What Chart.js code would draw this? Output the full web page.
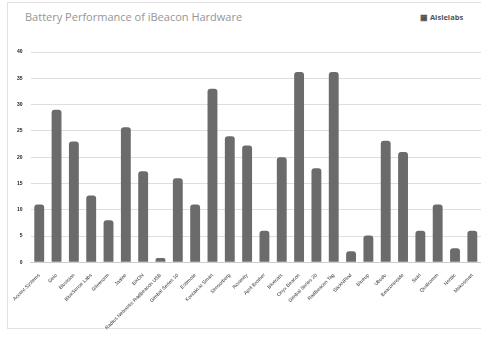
<!DOCTYPE html>
<html lang="en">
<head>
  <meta charset="UTF-8">
  <title>Battery Performance of iBeacon Hardware</title>
  <script src="https://cdn.jsdelivr.net/npm/chart.js"></script>
  <style>
    body { margin: 0; background: #fff; font-family: "Open Sans", Arial, sans-serif; }
    #card { position: absolute; left: 7px; top: 2px; width: 480px; height: 327px; border: 1px solid #e2e2e2; box-sizing: border-box; }
    #title { position: absolute; left: 25px; top: 9px; font-size: 11px; color: #959595; }
    #logo { position: absolute; left: 420px; top: 12px; font-size: 7.5px; font-weight: bold; color: #555; }
    #wrap { position: absolute; left: 8px; top: 0; width: 473px; height: 335px; }
  </style>
</head>
<body>
  <div id="card"></div>
  <div id="title">Battery Performance of iBeacon Hardware</div>
  <div id="logo">&#9638; Aislelabs</div>
  <div id="wrap"><canvas id="batteryChart"></canvas></div>

  <script>
    const vendors = [
      'Accent Systems', 'Gelo', 'Bluvision', 'BlueSense Labs', 'Glimworm', 'Jaalee', 'BKON',
      'Radius Networks RadBeacon USB', 'Gimbal Series 10', 'Estimote', 'Kontakt.io Smart',
      'Sensorberg', 'Roximity', 'April Brother', 'Bluecats', 'Onyx Beacon', 'Gimbal Series 20',
      'RadBeacon Tag', 'StickNFind', 'Blueup', 'Ubudu', 'Beaconinside', 'Swirl', 'Qualcomm', 'Nordic', 'Mokosmart'
    ];
    const batteryMonths = [11, 29, 23, 12.7, 8, 25.7, 17.3, 0.8, 16, 11, 33, 24, 22.2, 6,
                           20, 36.2, 17.9, 36.2, 2.1, 5.1, 23.1, 21, 6, 11, 2.7, 6];
    const yTicks = [0, 5, 10, 15, 20, 25, 30, 35, 40];

    const ctx = document.getElementById('batteryChart').getContext('2d');
    new Chart(ctx, {
      type: 'bar',
      data: {
        labels: vendors,
        datasets: [{
          data: batteryMonths,
          backgroundColor: '#6b6b6b',
          borderRadius: { topLeft: 3, topRight: 3 },
          borderSkipped: 'bottom',
          barPercentage: 0.6,
          categoryPercentage: 0.95
        }]
      },
      options: {
        responsive: true,
        maintainAspectRatio: false,
        animation: false,
        layout: { padding: { top: 52, right: 0, left: 1, bottom: 2 } },
        plugins: {
          legend: { display: false },
          tooltip: { enabled: false }
        },
        scales: {
          y: {
            min: yTicks[0],
            max: yTicks[yTicks.length - 1],
            afterBuildTicks: axis => { axis.ticks = yTicks.map(v => ({ value: v })); },
            ticks: { color: '#222', font: { size: 5, weight: 'bold' }, padding: 8 },
            grid: { color: '#dedede', drawTicks: false },
            border: { display: false }
          },
          x: {
            ticks: {
              color: '#333',
              font: { size: 5 },
              autoSkip: false,
              minRotation: 45,
              maxRotation: 45,
              padding: 2
            },
            grid: { display: false },
            border: { color: '#ccc' }
          }
        }
      }
    });
  </script>
</body>
</html>
